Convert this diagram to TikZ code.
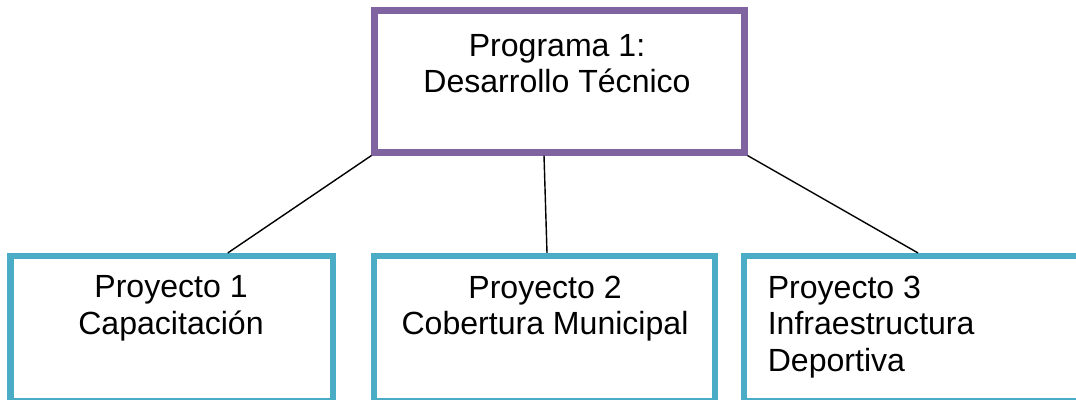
\documentclass[tikz,border=0pt]{standalone}
\usepackage{fontspec}
\setmainfont{Liberation Sans}
\usetikzlibrary{calc}
\definecolor{progpurple}{RGB}{128,100,162}
\definecolor{projblue}{RGB}{75,172,198}

\tikzset{
  progbox/.style={draw=progpurple, line width=5pt, minimum width=9.225cm, minimum height=3.525cm},
  projbox/.style={draw=projblue, line width=4.3pt, minimum height=3.625cm},
  boxtext/.style={inner sep=0pt, font=\fontsize{22.8}{26}\selectfont},
  link/.style={line width=1pt}
}

\begin{document}
\begin{tikzpicture}[x=0.025cm, y=-0.025cm]

\useasboundingbox (0,0) rectangle (1076,400);

\node[progbox] (prog) at (559.5,81.5) {};
\node[projbox, minimum width=8.06cm] (proy1) at (171.75,328.5) {};
\node[projbox, minimum width=8.525cm] (proy2) at (544.5,328.5) {};
\node[projbox, minimum width=8.525cm] (proy3) at (914.5,328.5) {};

\node[boxtext, anchor=north, align=center] (progtxt) at (557,34) {Programa 1:\\Desarrollo Técnico};
\node[boxtext, anchor=north, align=center] (proy1txt) at (171,275.5) {Proyecto 1\\Capacitación};
\node[boxtext, anchor=north, align=center] (proy2txt) at (545,275.5) {Proyecto 2\\Cobertura Municipal};
\node[boxtext, anchor=north west, align=left] (proy3txt) at (767.5,275.5) {Proyecto 3\\Infraestructura\\Deportiva};

\draw[link] (prog.south west) -- ($(proy1.north)+(56,0)$);
\draw[link] ($(prog.south)+(-15.5,0)$) -- ($(proy2.north)+(2.5,0)$);
\draw[link] (prog.south east) -- ($(proy3.north)+(3.5,0)$);

\end{tikzpicture}
\end{document}
